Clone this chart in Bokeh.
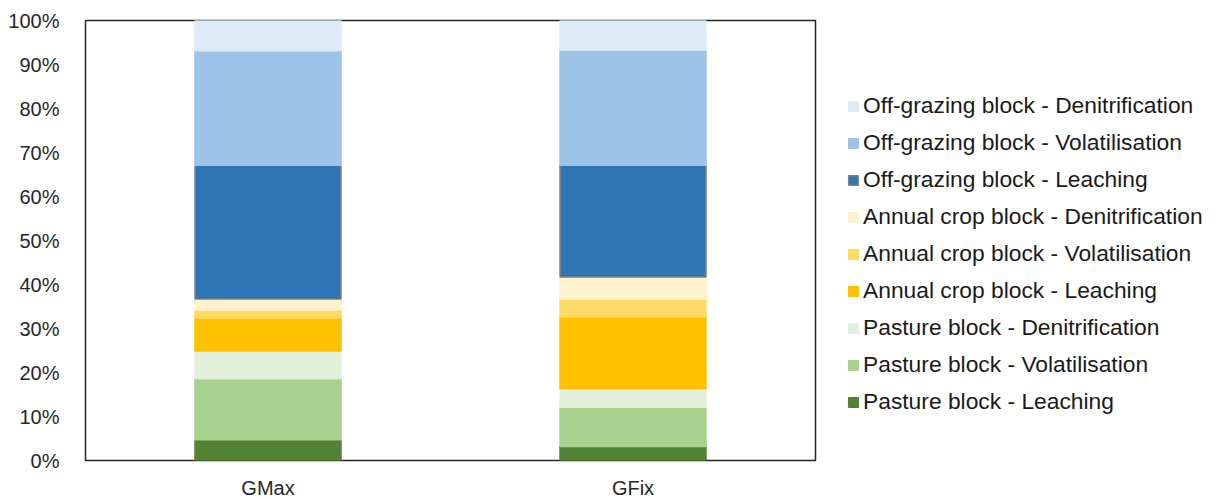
from bokeh.plotting import figure
from bokeh.models import ColumnDataSource, Legend, LegendItem, NumeralTickFormatter, FixedTicker, Range1d
from bokeh.embed import file_html
from bokeh.resources import INLINE

scenarios = ["GMax", "GFix"]
series = [
    "Pasture block - Leaching",
    "Pasture block - Volatilisation",
    "Pasture block - Denitrification",
    "Annual crop block - Leaching",
    "Annual crop block - Volatilisation",
    "Annual crop block - Denitrification",
    "Off-grazing block - Leaching",
    "Off-grazing block - Volatilisation",
    "Off-grazing block - Denitrification",
]
gmax = [4.7, 13.9, 6.3, 7.5, 1.8, 2.5, 30.4, 26.0, 6.9]
gfix = [3.2, 8.9, 4.2, 16.3, 4.1, 5.0, 25.4, 26.2, 6.7]
colors = ["#548235", "#A9D18E", "#E2F0D9", "#FFC000", "#FFD966", "#FFF2CC",
          "#2E75B6", "#9DC3E6", "#DEEBF7"]
line_colors = [c for c in colors]
line_colors[6] = "#7F7F7F"

data = {"scenario": scenarios}
keys = []
for i, s in enumerate(series):
    k = "s%d" % i
    keys.append(k)
    data[k] = [gmax[i] / 100.0, gfix[i] / 100.0]
source = ColumnDataSource(data)

p = figure(x_range=scenarios, y_range=Range1d(0, 1), frame_width=730, frame_height=440,
           output_backend="svg", toolbar_location=None,
           min_border_left=85, min_border_right=10, min_border_top=20, min_border_bottom=38)

renderers = p.vbar_stack(keys, x="scenario", width=0.4, source=source,
                         fill_color=colors, line_color=line_colors, line_width=1.5)

items = [LegendItem(label=series[i], renderers=[renderers[i]]) for i in reversed(range(len(series)))]
legend = Legend(items=items, location=(32, 45))
legend.label_text_font = "Liberation Sans"
legend.label_text_font_size = "22.8px"
legend.label_text_color = "#1a1a1a"
legend.glyph_width = 12
legend.glyph_height = 12
legend.label_height = 22
legend.spacing = 10
legend.padding = 0
legend.margin = 0
legend.label_standoff = 4
legend.border_line_color = None
legend.background_fill_alpha = 0
p.add_layout(legend, "right")

p.xgrid.visible = False
p.ygrid.visible = False
p.outline_line_color = "#262626"
p.outline_line_width = 1.5

p.yaxis.ticker = FixedTicker(ticks=[i / 10 for i in range(11)])
p.yaxis.formatter = NumeralTickFormatter(format="0%")
for ax in (p.xaxis[0], p.yaxis[0]):
    ax.axis_line_color = None
    ax.major_tick_line_color = None
    ax.minor_tick_line_color = None
    ax.major_label_text_font = "Liberation Sans"
    ax.major_label_text_font_size = "20px"
    ax.major_label_text_color = "#262626"
p.yaxis.major_label_standoff = 20
p.xaxis.major_label_standoff = 10
p.x_range.range_padding = 0

open("out.html", "w").write(file_html(p, INLINE))
